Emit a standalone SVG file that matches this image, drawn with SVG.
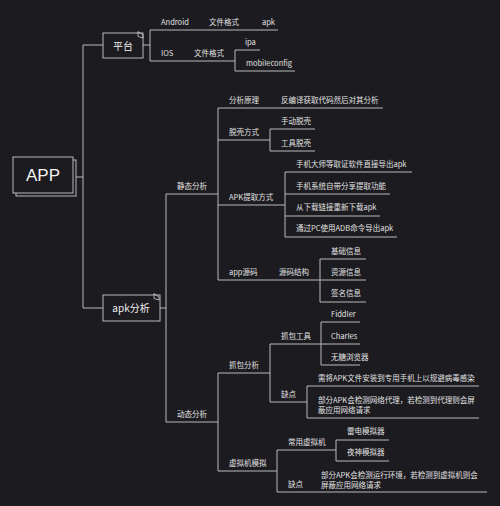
<svg xmlns="http://www.w3.org/2000/svg" width="500" height="506" viewBox="0 0 500 506">
<style>
.bg{fill:#1c1b20}
.ln{fill:none;stroke:#b9b9b9;stroke-width:1}
.box{fill:#1c1b20;stroke:#b9b9b9;stroke-width:1}
.t{font-family:"Noto Sans CJK SC","Noto Sans",sans-serif;font-size:7.5px;fill:#e2e2e2}
.n{font-family:"Noto Sans CJK SC","Noto Sans",sans-serif;font-size:10px;fill:#eeeeee;text-anchor:middle}
.r{font-family:"Liberation Sans","Noto Sans CJK SC",sans-serif;font-size:17px;fill:#f2f2f2;text-anchor:middle}
.ic{fill:none;stroke:#d0d0d0;stroke-width:0.8}
</style>
<rect class="bg" x="0" y="0" width="500" height="506"/>
<g id="connectors">
<path class="ln" d="M76 177H83M83 45V308M83 45H103M83 308H103"/>
<path class="ln" d="M143 45H150M150 30V61M150 30H278M150 61H235M235 50V71M235 50H260M235 71H295"/>
<path class="ln" d="M160 308H166M166 194V422M166 194H218M166 422H218"/>
<path class="ln" d="M218 108V280M218 108H383M218 140H270M270 129V151M270 129H315M270 151H315"/>
<path class="ln" d="M218 205H285M285 172V237M285 172H412M285 194H390M285 216H380M285 237H397"/>
<path class="ln" d="M218 280H320M320 259V302M320 259H366M320 302H366M320 280H366"/>
<path class="ln" d="M218 373V471M218 373H270M270 344V402M270 344H321M321 322V365M321 322H360M321 344H360M321 365H360"/>
<path class="ln" d="M270 402H307M307 386V418M307 386H479M307 418H479"/>
<path class="ln" d="M218 471H277M277 450V492M277 450H336M336 440V461M336 440H389M336 461H389M277 492H487"/>
</g>
<g id="node-app">
<rect class="box" x="16" y="160" width="60" height="36"/>
<rect class="box" x="13" y="157" width="60" height="36"/>
<text class="r" x="43" y="181">APP</text>
</g>
<g id="node-platform">
<rect class="box" x="103" y="33" width="40" height="25"/>
<path class="ic" d="M138 31.5V36.5L143 38V35Z"/>
<text class="n" x="123" y="49.5">平台</text>
</g>
<g id="node-android">
<text class="t" x="161" y="25">Android</text>
<text class="t" x="209" y="25">文件格式</text>
<text class="t" x="262" y="25">apk</text>
</g>
<g id="node-ios">
<text class="t" x="161" y="56">IOS</text>
<text class="t" x="194" y="56">文件格式</text>
<text class="t" x="245" y="45">ipa</text>
<text class="t" x="246" y="66">mobileconfig</text>
</g>
<g id="node-apk">
<rect class="box" x="103" y="295" width="57" height="26"/>
<path class="ic" d="M154 293.5V298.5L159 300V297Z"/>
<text class="n" x="131" y="311.5">apk分析</text>
</g>
<g id="node-static">
<text class="t" x="177" y="189">静态分析</text>
<text class="t" x="229" y="103">分析原理</text>
<text class="t" x="281" y="103">反编译获取代码然后对其分析</text>
<text class="t" x="229" y="135">脱壳方式</text>
<text class="t" x="281" y="124">手动脱壳</text>
<text class="t" x="281" y="146">工具脱壳</text>
<text class="t" x="229" y="200">APK提取方式</text>
<text class="t" x="296" y="167">手机大师等取证软件直接导出apk</text>
<text class="t" x="296" y="189">手机系统自带分享提取功能</text>
<text class="t" x="296" y="210">从下载链接重新下载apk</text>
<text class="t" x="296" y="231">通过PC使用ADB命令导出apk</text>
<text class="t" x="229" y="275">app源码</text>
<text class="t" x="279" y="275">源码结构</text>
<text class="t" x="331" y="254">基础信息</text>
<text class="t" x="331" y="275">资源信息</text>
<text class="t" x="331" y="296">签名信息</text>
</g>
<g id="node-dynamic">
<text class="t" x="177" y="417">动态分析</text>
<text class="t" x="229" y="368">抓包分析</text>
<text class="t" x="281" y="339">抓包工具</text>
<text class="t" x="331" y="317">Fiddler</text>
<text class="t" x="331" y="339">Charles</text>
<text class="t" x="331" y="360">无糖浏览器</text>
<text class="t" x="281" y="397">缺点</text>
<text class="t" x="318" y="381">需将APK文件安装到专用手机上以规避病毒感染</text>
<text class="t" x="318" y="403">部分APK会检测网络代理，若检测到代理则会屏</text>
<text class="t" x="318" y="413">蔽应用网络请求</text>
<text class="t" x="229" y="466">虚拟机模拟</text>
<text class="t" x="288" y="445">常用虚拟机</text>
<text class="t" x="347" y="434">雷电模拟器</text>
<text class="t" x="347" y="455">夜神模拟器</text>
<text class="t" x="288" y="487">缺点</text>
<text class="t" x="321" y="478">部分APK会检测运行环境，若检测到虚拟机则会</text>
<text class="t" x="321" y="488">屏蔽应用网络请求</text>
</g>
</svg>
